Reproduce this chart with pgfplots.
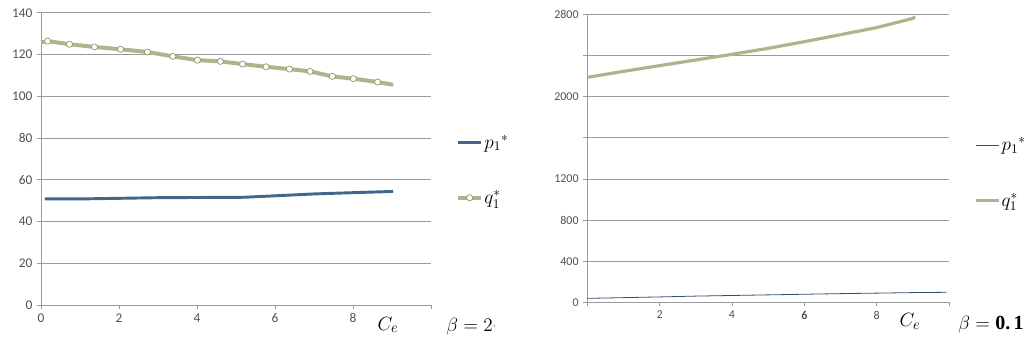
\documentclass[border=0pt]{standalone}
\usepackage{fontspec}
\setmainfont{Carlito}
\newfontfamily\serifbold{Liberation Serif}
\usepackage{pgfplots}
\pgfplotsset{compat=1.18}
\definecolor{pblue}{HTML}{41678A}
\definecolor{qgreen}{HTML}{A9B88C}
\definecolor{gridc}{HTML}{9A9A9A}
\definecolor{tickc}{HTML}{505050}
\pgfplotsset{
  midmark legend/.style={
    legend image code/.code={
      \draw[##1, mark=none] (0cm,0cm) -- (0.6cm,0cm);
      \draw[##1, mark indices={1}] plot coordinates {(0.3cm,0cm)};
    }
  }
}
\begin{document}
\begin{tikzpicture}
\path[use as bounding box] (0,0) rectangle (768pt,256.5pt);
\pgfplotsset{
  common/.style={
    scale only axis, anchor=south west, clip=false,
    axis x line*=bottom, axis y line*=left,
    axis line style={gridc, line width=0.7pt},
    ymajorgrids, grid style={gridc, line width=0.7pt},
    tick align=outside, major tick length=3pt,
    tick style={gridc, line width=0.7pt},
    ticklabel style={text=tickc},
    /pgf/number format/assume math mode=true,
    xmin=0, xmax=10,
    legend cell align=left,
    legend style={draw=none, fill=none, row sep=28pt, font=\fontsize{14}{14}\selectfont,
      nodes={inner sep=1pt}},
  }
}
\begin{axis}[common,
  at={(30.75pt,27.75pt)}, width=292.5pt, height=219.2pt,
  ymin=0, ymax=140, ytick={0,20,...,140},
  xtick={0,2,4,6,8,10}, xticklabels={0,2,4,6,8,},
  ticklabel style={font=\fontsize{10}{11}\selectfont},
  legend style={at={(1.054,0.4615)}, anchor=west},
]
\addplot[pblue, line width=2.2pt] coordinates {
(0.1,50.8) (1,50.8) (2,51.1) (3,51.4) (4,51.5) (5.2,51.6) (6,52.3) (7,53.2) (8,53.8) (9.03,54.4)};
\addlegendentry{$p_1{}^*$}
\addplot[qgreen, line width=3pt, mark=*, mark options={fill=white, line width=0.5pt, draw=qgreen!80!black}, mark size=2.3pt, mark indices={2,3,...,16}, midmark legend] coordinates {
(0,125.8) (0.17,126.4) (0.73,124.9) (1.37,123.6) (2.04,122.5) (2.73,121.2) (3.38,119.1) (4.01,117.3) (4.6,116.7) (5.17,115.4) (5.77,114.1) (6.37,113.0) (6.9,111.9) (7.47,109.5) (8.01,108.4) (8.63,106.8) (9.03,105.5)};
\addlegendentry{$q_1^*$}
\node[font=\fontsize{15}{15}\selectfont] at (axis cs:8.9,0) [yshift=-15pt] {$C_e$};
\node[font=\fontsize{15}{15}\selectfont] at (axis cs:11.03,0) [yshift=-16.5pt] {$\beta = 2$\raisebox{0.3ex}{\textcolor{gridc}{\tiny +}}};
\end{axis}
\begin{axis}[common,
  at={(440.5pt,29.8pt)}, width=271.3pt, height=215.7pt,
  ymin=0, ymax=2800, ytick={0,400,...,2800},
  yticklabels={0,400,800,1200,,2000,,2800},
  xtick={0,2,4,6,8,10}, xticklabels={,2,4,\textbf{6},8,},
  ticklabel style={font=\fontsize{9}{10}\selectfont},
  scaled y ticks=false,
  legend style={at={(1.058,0.45)}, anchor=west},
]
\addplot[pblue!80!black, line width=0.6pt] coordinates {
(0,38) (1,45) (2,52) (3,60) (4,66) (5,72) (6,78) (7,84) (8,89) (9,94) (9.93,97)};
\addlegendentry{$p_1{}^*$}
\addplot[qgreen, line width=2.4pt] coordinates {
(0,2190) (1,2248) (2,2304) (3,2359) (4,2414) (5,2472) (6,2537) (7,2605) (8,2674) (9,2764) (9.06,2780)};
\addlegendentry{$q_1^*$}
\node[font=\fontsize{15}{15}\selectfont] at (axis cs:8.92,0) [yshift=-14.5pt] {$C_e$};
\node[font=\fontsize{15}{15}\selectfont] at (axis cs:11.16,0) [yshift=-17pt] {$\beta = \mbox{\serifbold\bfseries 0.\,1}$};
\end{axis}
\end{tikzpicture}
\end{document}
